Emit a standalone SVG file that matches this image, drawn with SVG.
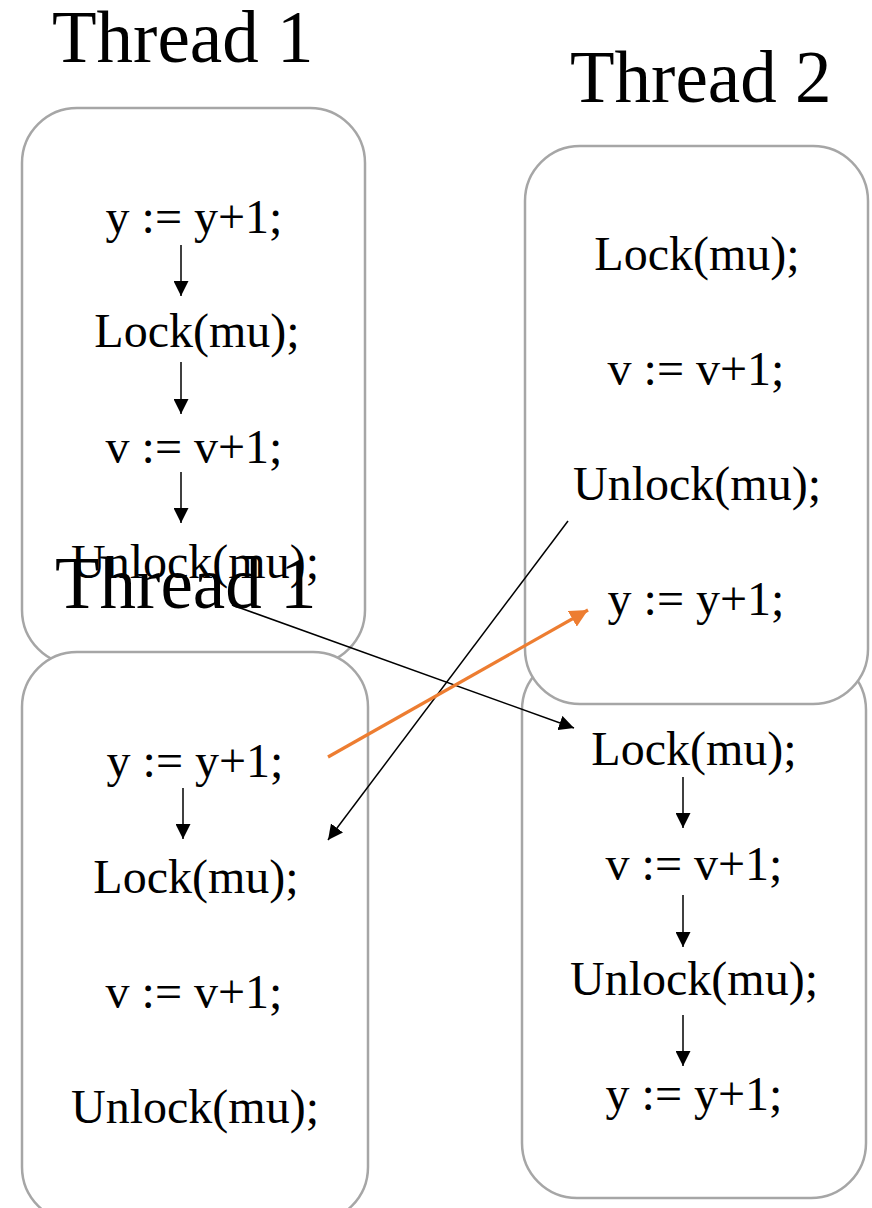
<svg xmlns="http://www.w3.org/2000/svg" width="872" height="1208" viewBox="0 0 872 1208">
<defs>
<marker id="ahs" viewBox="0 0 10 10" refX="10" refY="5" markerWidth="15" markerHeight="15" markerUnits="userSpaceOnUse" orient="auto"><path d="M0,0 L10,5 L0,10 z" fill="#000"/></marker>
<marker id="aho" viewBox="0 0 10 10" refX="10" refY="5" markerWidth="18" markerHeight="18" markerUnits="userSpaceOnUse" orient="auto"><path d="M0,0 L10,5 L0,10 z" fill="#ED7D31"/></marker>
</defs>
<style>
.box{fill:#fff;stroke:#a6a6a6;stroke-width:2.5}
.t{font-family:"Liberation Serif","Times New Roman",serif;font-size:48px;fill:#000;text-anchor:middle}
.title{font-family:"Liberation Serif","Times New Roman",serif;font-size:73px;fill:#000}
.s{stroke:#000;stroke-width:1.5;fill:none;marker-end:url(#ahs)}
</style>
<rect width="872" height="1208" fill="#fff"/>
<text class="title" x="52" y="62">Thread 1</text>
<text class="title" x="570" y="102">Thread 2</text>
<g id="t1a">
<rect class="box" x="22" y="108" width="343" height="557" rx="55"/>
<text class="t" x="194" y="233">y := y+1;</text>
<text class="t" x="197" y="347">Lock(mu);</text>
<text class="t" x="194" y="463">v := v+1;</text>
<text class="t" x="195" y="578">Unlock(mu);</text>
<line class="s" x1="181" y1="245" x2="181" y2="296"/>
<line class="s" x1="181" y1="362" x2="181" y2="414"/>
<line class="s" x1="181" y1="472" x2="181" y2="523"/>
</g>
<g id="t1b">
<rect class="box" x="22" y="652" width="346" height="570" rx="55"/>
<text class="t" x="195" y="777">y := y+1;</text>
<text class="t" x="196" y="893">Lock(mu);</text>
<text class="t" x="194" y="1008">v := v+1;</text>
<text class="t" x="195" y="1123">Unlock(mu);</text>
<line class="s" x1="183" y1="788" x2="183" y2="839"/>
</g>
<g id="t2b">
<rect class="box" x="522" y="655" width="344" height="543" rx="55"/>
<text class="t" x="694" y="765">Lock(mu);</text>
<text class="t" x="694" y="880">v := v+1;</text>
<text class="t" x="694" y="995">Unlock(mu);</text>
<text class="t" x="694" y="1110">y := y+1;</text>
<line class="s" x1="683" y1="777" x2="683" y2="828"/>
<line class="s" x1="683" y1="895" x2="683" y2="947"/>
<line class="s" x1="683" y1="1015" x2="683" y2="1066"/>
</g>
<g id="t2a">
<rect class="box" x="525" y="146" width="343" height="558" rx="55"/>
<text class="t" x="697" y="270">Lock(mu);</text>
<text class="t" x="696" y="385">v := v+1;</text>
<text class="t" x="697" y="500">Unlock(mu);</text>
<text class="t" x="696" y="615">y := y+1;</text>
</g>
<text class="title" x="55" y="608">Thread 1</text>
<g id="connectors">
<line x1="232" y1="605" x2="574" y2="728" stroke="#000" stroke-width="1.5" marker-end="url(#ahs)"/>
<line x1="568" y1="521" x2="328" y2="840" stroke="#000" stroke-width="1.5" marker-end="url(#ahs)"/>
<line x1="328" y1="757" x2="588" y2="610" stroke="#ED7D31" stroke-width="3.2" marker-end="url(#aho)"/>
</g>
</svg>
